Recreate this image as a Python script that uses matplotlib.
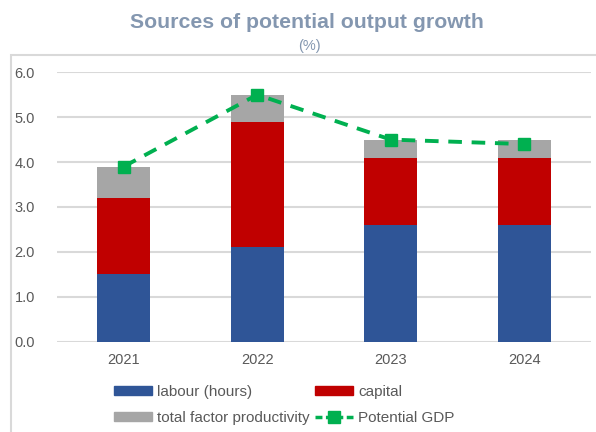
import matplotlib
matplotlib.use("Agg")
import matplotlib.pyplot as plt
from matplotlib.patches import Rectangle
from matplotlib.lines import Line2D
import numpy as np

plt.rcParams['font.family'] = ['Liberation Sans', 'DejaVu Sans']

years = ["2021", "2022", "2023", "2024"]
labour = [1.5, 2.1, 2.6, 2.6]
capital = [1.7, 2.8, 1.5, 1.5]
tfp = [0.7, 0.6, 0.4, 0.4]
potential_gdp = [3.9, 5.5, 4.5, 4.4]
y_ticks = [0.0, 1.0, 2.0, 3.0, 4.0, 5.0, 6.0]

c_labour = "#2F5597"
c_capital = "#C00000"
c_tfp = "#A6A6A6"
c_gdp = "#00B050"
c_grid = "#D9D9D9"
c_text = "#595959"
c_title = "#8497B0"

fig = plt.figure(figsize=(5.96, 4.32), dpi=100)

# outer chart frame
fig.patches.append(Rectangle((11 / 596, -0.05), 1.2, 1 - 55 / 432 + 0.05,
                             transform=fig.transFigure, fill=False,
                             edgecolor=c_grid, linewidth=1.5, zorder=0))

ax = fig.add_axes([57 / 596, 1 - 341.5 / 432, 534 / 596, (341.5 - 72.3) / 432])

x = np.arange(len(years))
w = 0.4
lab = np.array(labour)
cap = np.array(capital)
tf = np.array(tfp)
ax.bar(x, lab, w, color=c_labour, zorder=2, label="labour (hours)")
ax.bar(x, cap, w, bottom=lab, color=c_capital, zorder=2, label="capital")
ax.bar(x, tf, w, bottom=lab + cap, color=c_tfp, zorder=2, label="total factor productivity")
ax.plot(x, potential_gdp, color=c_gdp, linestyle=(0, (3.5, 2.5)), linewidth=2.8,
        marker="s", markersize=8, zorder=3, label="Potential GDP")

ax.set_xlim(-0.5, 3.5)
ax.set_ylim(0, 6.0)
ax.set_yticks(y_ticks)
ax.set_yticklabels([f"{v:.1f}" for v in y_ticks])
ax.set_xticks(x)
ax.set_xticklabels(years)
ax.tick_params(axis="both", length=0, labelsize=10.5, colors=c_text)
ax.tick_params(axis="y", pad=16)
ax.tick_params(axis="x", pad=8)
ax.grid(axis="y", color=c_grid, linewidth=1.5, zorder=0)
for s in ax.spines.values():
    s.set_visible(False)

fig.text(307 / 596, 1 - 22 / 432, "Sources of potential output growth", ha="center", va="center",
         fontsize=15.3, fontweight="bold", color=c_title)
fig.text(309 / 596, 1 - 46 / 432, "(%)", ha="center", va="center", fontsize=10.5, color=c_title)

h = [Rectangle((0, 0), 1, 1, color=c_labour),
     Rectangle((0, 0), 1, 1, color=c_tfp),
     Rectangle((0, 0), 1, 1, color=c_capital),
     Line2D([], [], color=c_gdp, linestyle=(0, (2, 1)), linewidth=2.5, marker="s", markersize=8)]
labels = ["labour (hours)", "total factor productivity", "capital", "Potential GDP"]
fig.legend(h, labels, ncol=2, loc="center left", bbox_to_anchor=(100 / 596, 1 - 405 / 432),
           frameon=False, fontsize=11, labelcolor=c_text, handlelength=2.5,
           handleheight=0.55, handletextpad=0.3, columnspacing=0.4, labelspacing=0.75)

fig.savefig("out.png", dpi=100)
